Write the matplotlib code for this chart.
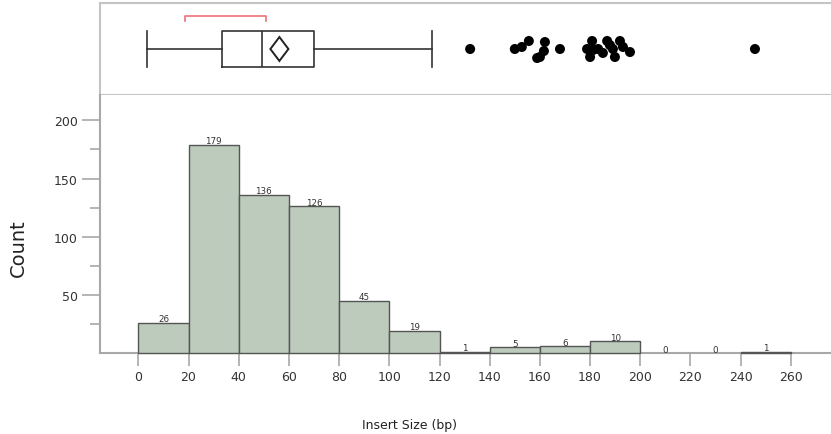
import numpy as np
import matplotlib.pyplot as plt
from matplotlib.patches import Polygon

# histogram of insert sizes (20 bp bins)
bin_edges = [0, 20, 40, 60, 80, 100, 120, 140, 160, 180, 200, 220, 240, 260]
counts = [26, 179, 136, 126, 45, 19, 1, 5, 6, 10, 0, 0, 1]

# outlier box summary
whisker_lo = 3.6
q1 = 33.5
median = 49.4
q3 = 69.8
whisker_hi = 117.2
mean = 56.2
mean_ci = 3.6
shortest_half = [18.7, 51.0]

outliers = [132.2, 150.0, 152.8, 155.6, 162.0, 161.6, 160.0, 158.9, 168.0,
            178.8, 180.8, 180.0, 183.2, 186.8, 185.1, 189.1, 189.9, 191.9,
            195.9, 181.2, 187.9, 193.1, 245.7]
jitter = [0.0, 0.0, 0.022, 0.087, 0.076, -0.022, -0.087, -0.098, 0.0,
          0.0, 0.087, -0.087, 0.0, 0.087, -0.043, 0.0, -0.087, 0.087,
          -0.033, -0.011, 0.043, 0.022, 0.0]

x_ticks = list(range(0, 261, 20))

GRID = "#a8a8a8"
TXT = "#333333"

plt.rcParams['font.family'] = ['DejaVu Sans']

fig = plt.figure(figsize=(8.31, 4.35), dpi=100)
xlim = (-15.3, 276.0)

# ---- box plot panel ----
ax_box = fig.add_axes([0.1203, 0.7793, 0.8797, 0.2115])
ax_box.set_xlim(*xlim)
ax_box.set_ylim(0, 1)

stats = [dict(whislo=whisker_lo, q1=q1, med=median, q3=q3, whishi=whisker_hi, fliers=[])]
ax_box.bxp(stats, positions=[0.5], widths=0.39, capwidths=0.39,
           orientation='horizontal', showfliers=False, manage_ticks=False,
           boxprops=dict(color="#333333", lw=1.2),
           whiskerprops=dict(color="#333333", lw=1.2),
           capprops=dict(color="#333333", lw=1.2),
           medianprops=dict(color="#333333", lw=1.2))

# mean confidence diamond
diamond = Polygon([[mean - mean_ci, 0.5], [mean, 0.63],
                   [mean + mean_ci, 0.5], [mean, 0.37]],
                  closed=True, fill=False, edgecolor="#222222", lw=1.4)
ax_box.add_patch(diamond)

# shortest half bracket
ax_box.plot([shortest_half[0], shortest_half[0], shortest_half[1], shortest_half[1]],
            [0.80, 0.855, 0.855, 0.80], color="#f0707a", lw=1.2)

ax_box.scatter(outliers, 0.5 + np.array(jitter), s=52, color="black",
               edgecolors="none", zorder=3)

for side in ["top", "left", "bottom"]:
    ax_box.spines[side].set_color("#c4c4c4")
    ax_box.spines[side].set_linewidth(1.5)
ax_box.spines["right"].set_visible(False)
ax_box.set_xticks([])
ax_box.set_yticks([])

# ---- histogram panel ----
ax = fig.add_axes([0.1203, 0.1862, 0.8797, 0.5931])
ax.set_xlim(*xlim)
ax.set_ylim(0, 221.8)

lefts = bin_edges[:-1]
edge_cols = ["#555555" if c > 0 else "none" for c in counts]
ax.bar(lefts, counts, width=20, align='edge', color="#bccbbc",
       edgecolor=edge_cols, linewidth=1.0, zorder=3, clip_on=False)

for left, c in zip(lefts, counts):
    ax.text(left + 10, c - 0.5, str(c), ha='center', va='bottom',
            fontsize=6.3, color=TXT, zorder=4)

ax.set_xticks(x_ticks)
ax.set_yticks([50, 100, 150, 200])
ax.set_yticks([25, 75, 125, 175], minor=True)
ax.tick_params(axis='x', direction='out', length=9, width=1.2, color=GRID,
               labelsize=9, labelcolor=TXT, pad=3)
ax.tick_params(axis='y', which='major', direction='out', length=13, width=1.2,
               color=GRID, labelsize=9, labelcolor=TXT, pad=3)
ax.tick_params(axis='y', which='minor', direction='out', length=7, width=1.2,
               color=GRID)

for side in ["top", "right"]:
    ax.spines[side].set_visible(False)
for side in ["left", "bottom"]:
    ax.spines[side].set_color(GRID)
    ax.spines[side].set_linewidth(1.5)

fig.text(0.022, 0.43, "Count", rotation=90, ha='center', va='center',
         fontsize=14, color="#222222")
fig.text(0.4355, 0.022, "Insert Size (bp)", ha='left', va='center',
         fontsize=9, color="#222222")

fig.savefig("out.png", dpi=100)
